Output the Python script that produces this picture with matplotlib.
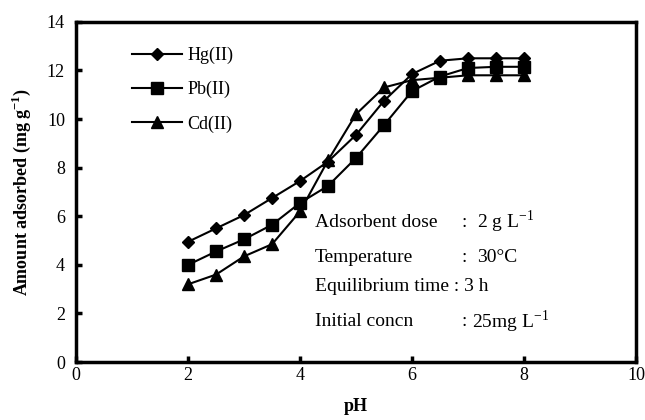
import matplotlib
matplotlib.use('Agg')
import matplotlib.pyplot as plt

ph = [2, 2.5, 3, 3.5, 4, 4.5, 5, 5.5, 6, 6.5, 7, 7.5, 8]
hg = [4.95, 5.5, 6.05, 6.75, 7.45, 8.25, 9.35, 10.75, 11.85, 12.4, 12.5, 12.5, 12.5]
pb = [4.0, 4.55, 5.05, 5.65, 6.55, 7.25, 8.4, 9.75, 11.15, 11.75, 12.1, 12.15, 12.15]
cd = [3.2, 3.6, 4.35, 4.85, 6.2, 8.3, 10.2, 11.3, 11.6, 11.7, 11.8, 11.8, 11.8]

cond_names = ['Adsorbent dose', 'Temperature', None, 'Initial concn']
cond_values = [r'2 g L$^{-1}$', '30°C', None, r'25mg L$^{-1}$']

plt.rcParams['font.family'] = ['Liberation Serif', 'DejaVu Serif']
plt.rcParams['mathtext.fontset'] = 'custom'
plt.rcParams['mathtext.rm'] = 'Liberation Serif'
plt.rcParams['mathtext.bf'] = 'Liberation Serif:bold'

fig = plt.figure(figsize=(6.45, 4.2), dpi=100)
ax = fig.add_axes([0.118, 0.138, 0.868, 0.810])

ax.plot(ph, hg, 'D-', color='black', lw=1.5, ms=6, label='Hg(II)')
ax.plot(ph, pb, 's-', color='black', lw=1.5, ms=8, label='Pb(II)')
ax.plot(ph, cd, '^-', color='black', lw=1.5, ms=8, label='Cd(II)')

ax.set_xlim(0, 10)
ax.set_ylim(0, 14)
ax.set_xticks(range(0, 11, 2))
ax.set_yticks(range(0, 15, 2))
ax.tick_params(direction='in', width=2.5, length=4, labelsize=13)
ax.tick_params(axis='y', pad=8)
for s in ax.spines.values():
    s.set_linewidth(2.5)

ax.set_xlabel('pH', fontsize=13, fontweight='bold', labelpad=10)
ax.set_ylabel(r'Amount adsorbed (mg g$^{\mathbf{-1}}$)', fontsize=13, fontweight='bold', labelpad=10)

ax.legend(loc='upper left', bbox_to_anchor=(0.07, 0.975), frameon=False, fontsize=13,
          handlelength=2.8, labelspacing=0.95, handletextpad=0.3)

# conditions text
ys = [5.76, 4.32, 3.09, 1.65]
for i, y in enumerate(ys):
    if cond_names[i] is None:
        ax.text(4.27, y, 'Equilibrium time : 3 h', fontsize=14, va='center')
    else:
        ax.text(4.27, y, cond_names[i], fontsize=14, va='center')
        ax.text(6.88, y, ':', fontsize=14, va='center')
        ax.text(7.08 if i == 3 else 7.16, y, cond_values[i], fontsize=14, va='center')

fig.savefig('out.png', dpi=100)
